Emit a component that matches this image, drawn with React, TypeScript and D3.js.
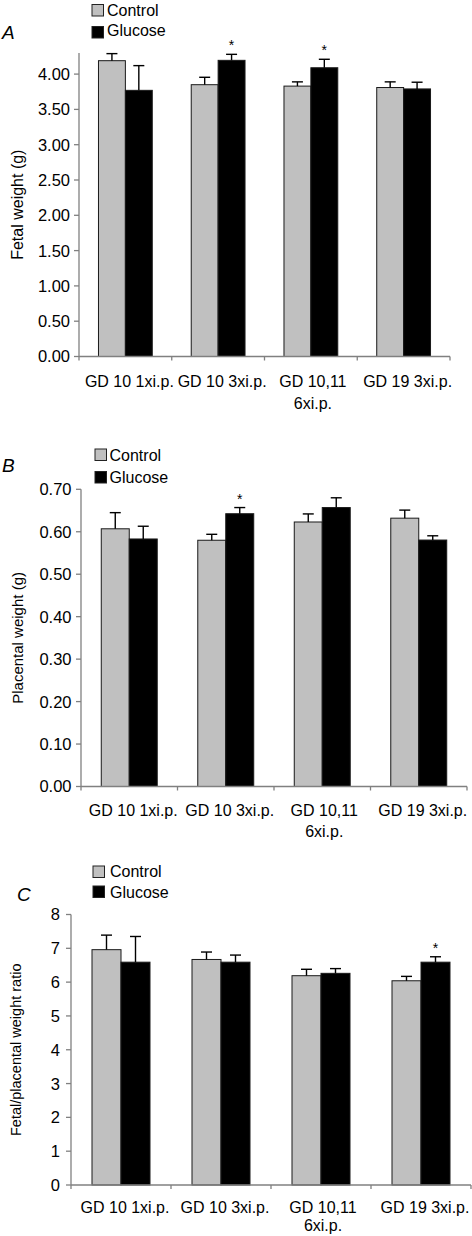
import React from "react";
import * as d3 from "d3";

// ---- Data ----
const categoryLines: string[][] = [
  ["GD 10 1xi.p."],
  ["GD 10 3xi.p."],
  ["GD 10,11", "6xi.p."],
  ["GD 19 3xi.p."],
];
const seriesNames = ["Control", "Glucose"];

const fetalControl = [4.19, 3.85, 3.83, 3.81];
const fetalControlSE = [0.1, 0.105, 0.06, 0.08];
const fetalGlucose = [3.77, 4.195, 4.09, 3.79];
const fetalGlucoseSE = [0.35, 0.085, 0.12, 0.095];
const fetalStars = [false, true, true, false];
const fetalTicks = [0, 0.5, 1, 1.5, 2, 2.5, 3, 3.5, 4];

const placControl = [0.607, 0.58, 0.623, 0.632];
const placControlSE = [0.038, 0.014, 0.019, 0.019];
const placGlucose = [0.583, 0.6425, 0.657, 0.5805];
const placGlucoseSE = [0.03, 0.0145, 0.023, 0.01];
const placStars = [false, true, false, false];
const placTicks = [0, 0.1, 0.2, 0.3, 0.4, 0.5, 0.6, 0.7];

const ratioControl = [6.96, 6.67, 6.19, 6.04];
const ratioControlSE = [0.43, 0.22, 0.19, 0.13];
const ratioGlucose = [6.59, 6.59, 6.26, 6.59];
const ratioGlucoseSE = [0.76, 0.21, 0.14, 0.16];
const ratioStars = [false, false, false, true];
const ratioTicks = [0, 1, 2, 3, 4, 5, 6, 7, 8];

const FONT = "'Liberation Sans', Arial, Helvetica, sans-serif";
const CONTROL_FILL = "#c0c0c0";
const GLUCOSE_FILL = "#000000";
const AXIS = "#808080";

type PanelProps = {
  letter: string;
  letterX: number;
  letterY: number;
  title: string;
  titleX: number;
  titleSize: number;
  x0: number;
  x1: number;
  y0: number;
  yTop: number;
  domainMax: number;
  ticks: number[];
  tickFmt: (v: number) => string;
  tickGap: number;
  control: number[];
  controlSE: number[];
  glucose: number[];
  glucoseSE: number[];
  stars: boolean[];
  legendX: number;
  legendTextX: number;
  legendY: number[];
  legendBase: number[];
  labelBase: number;
  labelLine: number;
};

function Panel(p: PanelProps) {
  const y = d3.scaleLinear().domain([0, p.domainMax]).range([p.y0, p.yTop]);
  const x = d3
    .scaleBand<number>()
    .domain(d3.range(categoryLines.length))
    .range([p.x0, p.x1])
    .paddingInner(0.42)
    .paddingOuter(0.21);
  const sub = d3
    .scaleBand<number>()
    .domain([0, 1])
    .range([0, x.bandwidth()]);
  const step = x.step();
  const series = [
    { vals: p.control, se: p.controlSE, fill: CONTROL_FILL },
    { vals: p.glucose, se: p.glucoseSE, fill: GLUCOSE_FILL },
  ];
  const boundaries = d3.range(categoryLines.length + 1).map((i) => p.x0 + i * step);
  const midY = (p.y0 + p.yTop) / 2;
  return (
    <g fontFamily={FONT}>
      <text x={p.letterX} y={p.letterY} fontSize={19} fontStyle="italic">
        {p.letter}
      </text>
      {/* legend */}
      {seriesNames.map((n, i) => (
        <g key={n}>
          <rect
            x={p.legendX}
            y={p.legendY[i]}
            width={11.5}
            height={11.5}
            fill={i === 0 ? CONTROL_FILL : GLUCOSE_FILL}
            stroke="#222"
            strokeWidth={1}
          />
          <text x={p.legendTextX} y={p.legendBase[i]} fontSize={16}>
            {n}
          </text>
        </g>
      ))}
      {/* y title */}
      <text
        transform={`translate(${p.titleX},${midY}) rotate(-90)`}
        textAnchor="middle"
        fontSize={p.titleSize}
      >
        {p.title}
      </text>
      {/* bars */}
      {series.map((s, si) =>
        s.vals.map((v, i) => {
          const bx = (x(i) as number) + (sub(si) as number);
          const bw = sub.bandwidth();
          const top = y(v);
          const errTop = y(v + s.se[i]);
          const cx = bx + bw / 2;
          return (
            <g key={`${si}-${i}`}>
              <rect
                x={bx}
                y={top}
                width={bw}
                height={p.y0 - top}
                fill={s.fill}
                stroke="#1a1a1a"
                strokeWidth={1}
              />
              <line x1={cx} x2={cx} y1={top} y2={errTop} stroke="#000" strokeWidth={1.4} />
              <line x1={cx - 5.5} x2={cx + 5.5} y1={errTop} y2={errTop} stroke="#000" strokeWidth={1.4} />
              {si === 1 && p.stars[i] && (
                <text x={cx} y={errTop - 12 + 8} textAnchor="middle" fontSize={14}>
                  *
                </text>
              )}
            </g>
          );
        })
      )}
      {/* y axis */}
      <line x1={p.x0} x2={p.x0} y1={p.y0} y2={y(p.domainMax)} stroke={AXIS} strokeWidth={1.3} />
      {p.ticks.map((t) => (
        <g key={t}>
          <line x1={p.x0 - 5} x2={p.x0} y1={y(t)} y2={y(t)} stroke={AXIS} strokeWidth={1.3} />
          <text
            x={p.x0 - p.tickGap}
            y={y(t)}
            dy="0.36em"
            textAnchor="end"
            fontSize={16.5}
          >
            {p.tickFmt(t)}
          </text>
        </g>
      ))}
      {/* x axis */}
      <line x1={p.x0} x2={p.x1} y1={p.y0} y2={p.y0} stroke={AXIS} strokeWidth={1.3} />
      {boundaries.map((bx, i) => (
        <line key={i} x1={bx} x2={bx} y1={p.y0} y2={p.y0 + 4} stroke={AXIS} strokeWidth={1.3} />
      ))}
      {categoryLines.map((lines, i) => (
        <text
          key={i}
          x={(x(i) as number) + x.bandwidth() / 2 + (lines.length > 1 ? 2 : 4)}
          y={p.labelBase}
          textAnchor="middle"
          fontSize={16}
        >
          {lines.map((ln, li) => (
            <tspan
              key={li}
              x={(x(i) as number) + x.bandwidth() / 2 + (lines.length > 1 ? 2 : 4)}
              y={p.labelBase + li * p.labelLine}
            >
              {ln}
            </tspan>
          ))}
        </text>
      ))}
    </g>
  );
}

export default function App() {
  const f2 = d3.format(".2f");
  const f0 = d3.format("d");
  return (
    <svg
      width={472}
      height={1236}
      style={{ position: "absolute", left: 0, top: 0, background: "#fff" }}
    >
      <rect x={0} y={0} width={472} height={1236} fill="#fff" />
      <Panel
        letter="A"
        letterX={2}
        letterY={39}
        title="Fetal weight (g)"
        titleX={23}
        titleSize={16}
        x0={79}
        x1={450}
        y0={356.5}
        yTop={356.5 - 4.3 * 70.6}
        domainMax={4.3}
        ticks={fetalTicks}
        tickFmt={f2}
        tickGap={9}
        control={fetalControl}
        controlSE={fetalControlSE}
        glucose={fetalGlucose}
        glucoseSE={fetalGlucoseSE}
        stars={fetalStars}
        legendX={92}
        legendTextX={107}
        legendY={[4.5, 26.5]}
        legendBase={[15.7, 36]}
        labelBase={386.7}
        labelLine={22}
      />
      <Panel
        letter="B"
        letterX={2}
        letterY={471.5}
        title="Placental weight (g)"
        titleX={23}
        titleSize={15}
        x0={81}
        x1={467}
        y0={786.5}
        yTop={489.3}
        domainMax={0.7}
        ticks={placTicks}
        tickFmt={f2}
        tickGap={9.5}
        control={placControl}
        controlSE={placControlSE}
        glucose={placGlucose}
        glucoseSE={placGlucoseSE}
        stars={placStars}
        legendX={95}
        legendTextX={109.5}
        legendY={[449, 471.5]}
        legendBase={[461, 482.5]}
        labelBase={816}
        labelLine={20.5}
      />
      <Panel
        letter="C"
        letterX={17}
        letterY={901}
        title="Fetal/placental weight ratio"
        titleX={21}
        titleSize={14.5}
        x0={71}
        x1={471}
        y0={1185}
        yTop={914.5}
        domainMax={8}
        ticks={ratioTicks}
        tickFmt={f0}
        tickGap={11}
        control={ratioControl}
        controlSE={ratioControlSE}
        glucose={ratioGlucose}
        glucoseSE={ratioGlucoseSE}
        stars={ratioStars}
        legendX={93}
        legendTextX={110}
        legendY={[866, 886]}
        legendBase={[877.3, 897.7]}
        labelBase={1213.3}
        labelLine={17.7}
      />
    </svg>
  );
}
